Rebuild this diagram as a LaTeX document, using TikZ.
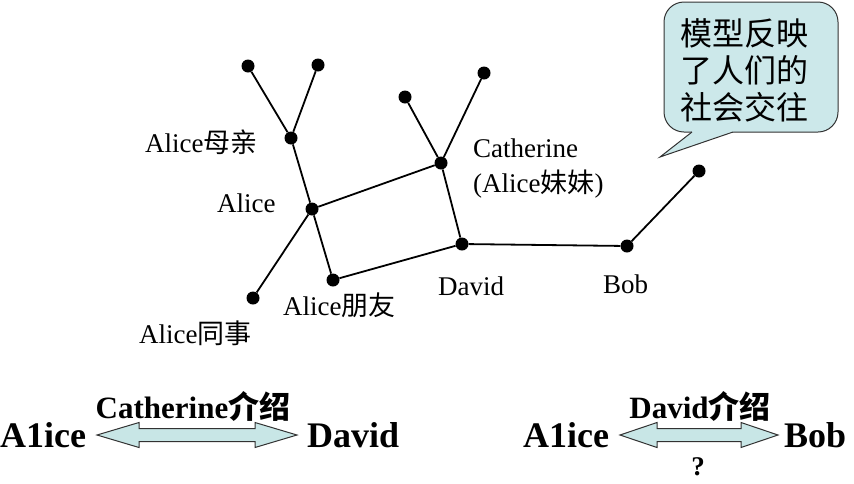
\documentclass[tikz,border=0pt]{standalone}
\usepackage{fontspec}
\setmainfont{Liberation Serif}
\newfontfamily\cjk{Noto Sans CJK SC}
\definecolor{callfill}{RGB}{204,232,234}
\definecolor{arrfill}{RGB}{200,230,230}
\definecolor{edgegray}{RGB}{50,50,50}
\tikzset{
  dot/.style={circle,fill=black,inner sep=0pt,minimum size=13pt},
  edge/.style={line width=1.8pt},
  lbl/.style={anchor=base west,inner sep=0pt,font=\fontsize{27}{30}\selectfont},
  big/.style={anchor=base west,inner sep=0pt,font=\fontsize{36}{40}\selectfont\bfseries},
  intro/.style={anchor=base,inner sep=0pt,font=\fontsize{31}{34}\selectfont\bfseries},
  dblarrow/.style={draw=edgegray,fill=arrfill,line width=1pt,line join=miter},
}
\begin{document}
\begin{tikzpicture}[x=1pt,y=-1pt]
\useasboundingbox (0,0) rectangle (854,483);
% dots
\node[dot] (m1) at (248,66) {};
\node[dot] (m2) at (318,65) {};
\node[dot] (mother) at (291,138) {};
\node[dot] (alice) at (312,209) {};
\node[dot] (colleague) at (253,298) {};
\node[dot] (friend) at (333,280) {};
\node[dot] (cath) at (441,163) {};
\node[dot] (c1) at (405,97) {};
\node[dot] (c2) at (484,73) {};
\node[dot] (david) at (462,244) {};
\node[dot] (bob) at (627,246) {};
\node[dot] (b1) at (699,171) {};
% edges
\draw[edge] (m1) -- (mother);
\draw[edge] (m2) -- (mother);
\draw[edge] (mother) -- (alice);
\draw[edge] (alice) -- (colleague);
\draw[edge] (alice) -- (friend);
\draw[edge] (alice) -- (cath);
\draw[edge] (c1) -- (cath);
\draw[edge] (c2) -- (cath);
\draw[edge] (cath) -- (david);
\draw[edge] (friend) -- (david);
\draw[edge] (david) -- (bob);
\draw[edge] (bob) -- (b1);
% labels
\node[lbl] (lmother) at (145,152) {Alice{\cjk 母亲}};
\node[lbl] (lalice) at (217,212) {Alice};
\node[lbl] (lfriend) at (283,315) {Alice{\cjk 朋友}};
\node[lbl] (lcoll) at (139,343) {Alice{\cjk 同事}};
\node[lbl] (ldavid) at (438,295) {David};
\node[lbl] (lbob) at (603,293) {Bob};
\node[lbl] (lcath) at (473,157) {Catherine};
\node[lbl] (lsister) at (473,192) {(Alice{\cjk 妹妹})};
% callout
\draw[draw=edgegray,fill=callfill,line width=1pt,rounded corners=20pt] (664,2) rectangle (838,132);
\fill[callfill] (692,132) -- (660,157) -- (733,132) -- (733,128) -- (692,128) -- cycle;
\draw[draw=edgegray,line width=1pt,line join=miter] (692,132) -- (660,157) -- (733,132);
\node[align=center,inner sep=0pt,font=\cjk\fontsize{32}{37}\selectfont] (callt) at (744,70) {模型反映\\了人们的\\社会交往};
% bottom left
\node[big] (a1) at (0,447) {A1ice};
\node[big] (d1) at (307,447) {David};
\draw[dblarrow] (97,435) -- (139,422.5) -- (139,428.5) -- (255,428.5) -- (255,422.5) -- (297,435)
  -- (255,447.5) -- (255,441.5) -- (139,441.5) -- (139,447.5) -- cycle;
\node[intro] (t1) at (193,418) {Catherine{\cjk\bfseries 介绍}};
% bottom right
\node[big] (a2) at (523,447) {A1ice};
\node[big] (b2) at (784,447) {Bob};
\draw[dblarrow] (620,435) -- (657,422.5) -- (657,428.5) -- (741,428.5) -- (741,422.5) -- (778,435)
  -- (741,447.5) -- (741,441.5) -- (657,441.5) -- (657,447.5) -- cycle;
\node[intro] (t2) at (700,418) {David{\cjk\bfseries 介绍}};
\node[anchor=base,inner sep=0pt,font=\fontsize{27}{30}\selectfont\bfseries] (q) at (698,475) {?};
\end{tikzpicture}
\end{document}
